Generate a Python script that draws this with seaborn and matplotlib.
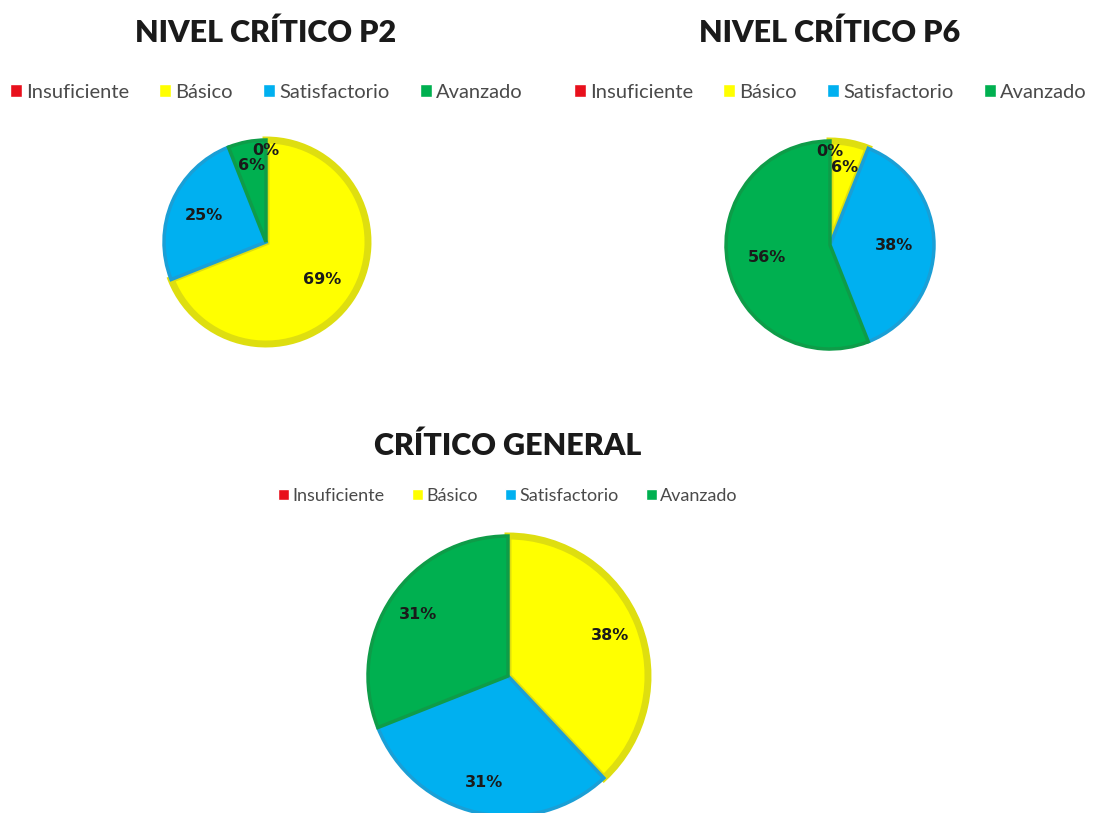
import numpy as np
import matplotlib
matplotlib.use('Agg')
import matplotlib.pyplot as plt
from matplotlib.patches import Patch
import seaborn as sns

# Datos (porcentajes por nivel)
categorias = ['Insuficiente', 'Básico', 'Satisfactorio', 'Avanzado']
p2 = [0, 69, 25, 6]
p6 = [0, 6, 38, 56]
general = [0, 38, 31, 31]
titulos = ['NIVEL CRÍTICO P2', 'NIVEL CRÍTICO P6', 'CRÍTICO GENERAL']

sns.set_theme(style='white')
plt.rcParams['font.family'] = ['Lato', 'DejaVu Sans']

colores = sns.color_palette(['#e8101c', '#ffff00', '#00b0f0', '#00b050'])
bordes = ['#c00000', '#dede10', '#1a9fd6', '#0e9c48']
grosores = [0, 5, 2.5, 2.5]

W, H = 1099, 813
fig = plt.figure(figsize=(W / 100, H / 100), dpi=100)


def dibujar_pie(cx, cy, r, valores, titulo, ty, ly, fs_leg, pctdist, mostrar_cero):
    side = 2.1 * r
    ax = fig.add_axes([(cx - side / 2) / W, (H - cy - side / 2) / H, side / W, side / H])
    wedges, _, autotextos = ax.pie(
        valores, colors=colores, startangle=90, counterclock=False,
        autopct='%1.0f%%', pctdistance=pctdist,
        textprops=dict(fontsize=11.5, fontweight='bold', color='#1a1a1a',
                       family=['DejaVu Sans']))
    for w, b, lw, v in zip(wedges, bordes, grosores, valores):
        w.set_edgecolor(b)
        w.set_linewidth(lw if v > 0 else 0)
    # etiquetas de porciones pequeñas mas hacia afuera
    for w, t, v in zip(wedges, autotextos, valores):
        if v == 0 and not mostrar_cero:
            t.set_visible(False)
        elif v < 10:
            d = 0.9 if v == 0 else 0.76
            ang = np.deg2rad((w.theta1 + w.theta2) / 2)
            t.set_position((d * np.cos(ang), d * np.sin(ang)))
    ax.set_xlim(-1.05, 1.05)
    ax.set_ylim(-1.05, 1.05)
    ax.set_aspect('equal')
    ax.axis('off')

    fig.text(cx / W, 1 - ty / H, titulo, ha='center', va='center',
             fontsize=22, fontweight='heavy', color='#1a1a1a')
    handles = [Patch(facecolor=c) for c in colores]
    fig.legend(handles, categorias, loc='center', bbox_to_anchor=(cx / W, 1 - ly / H),
               ncol=4, frameon=False, fontsize=fs_leg, labelcolor='#4a4a4a',
               handlelength=0.6, handleheight=0.6, handletextpad=0.2,
               columnspacing=1.5)


dibujar_pie(266, 242, 102, p2, titulos[0], 33, 92, 14.5, 0.66, True)
dibujar_pie(830, 245, 104, p6, titulos[1], 33, 92, 14.5, 0.62, True)
dibujar_pie(508, 676, 140, general, titulos[2], 446, 496, 13, 0.78, False)

fig.savefig('out.png', dpi=100, facecolor='white')
